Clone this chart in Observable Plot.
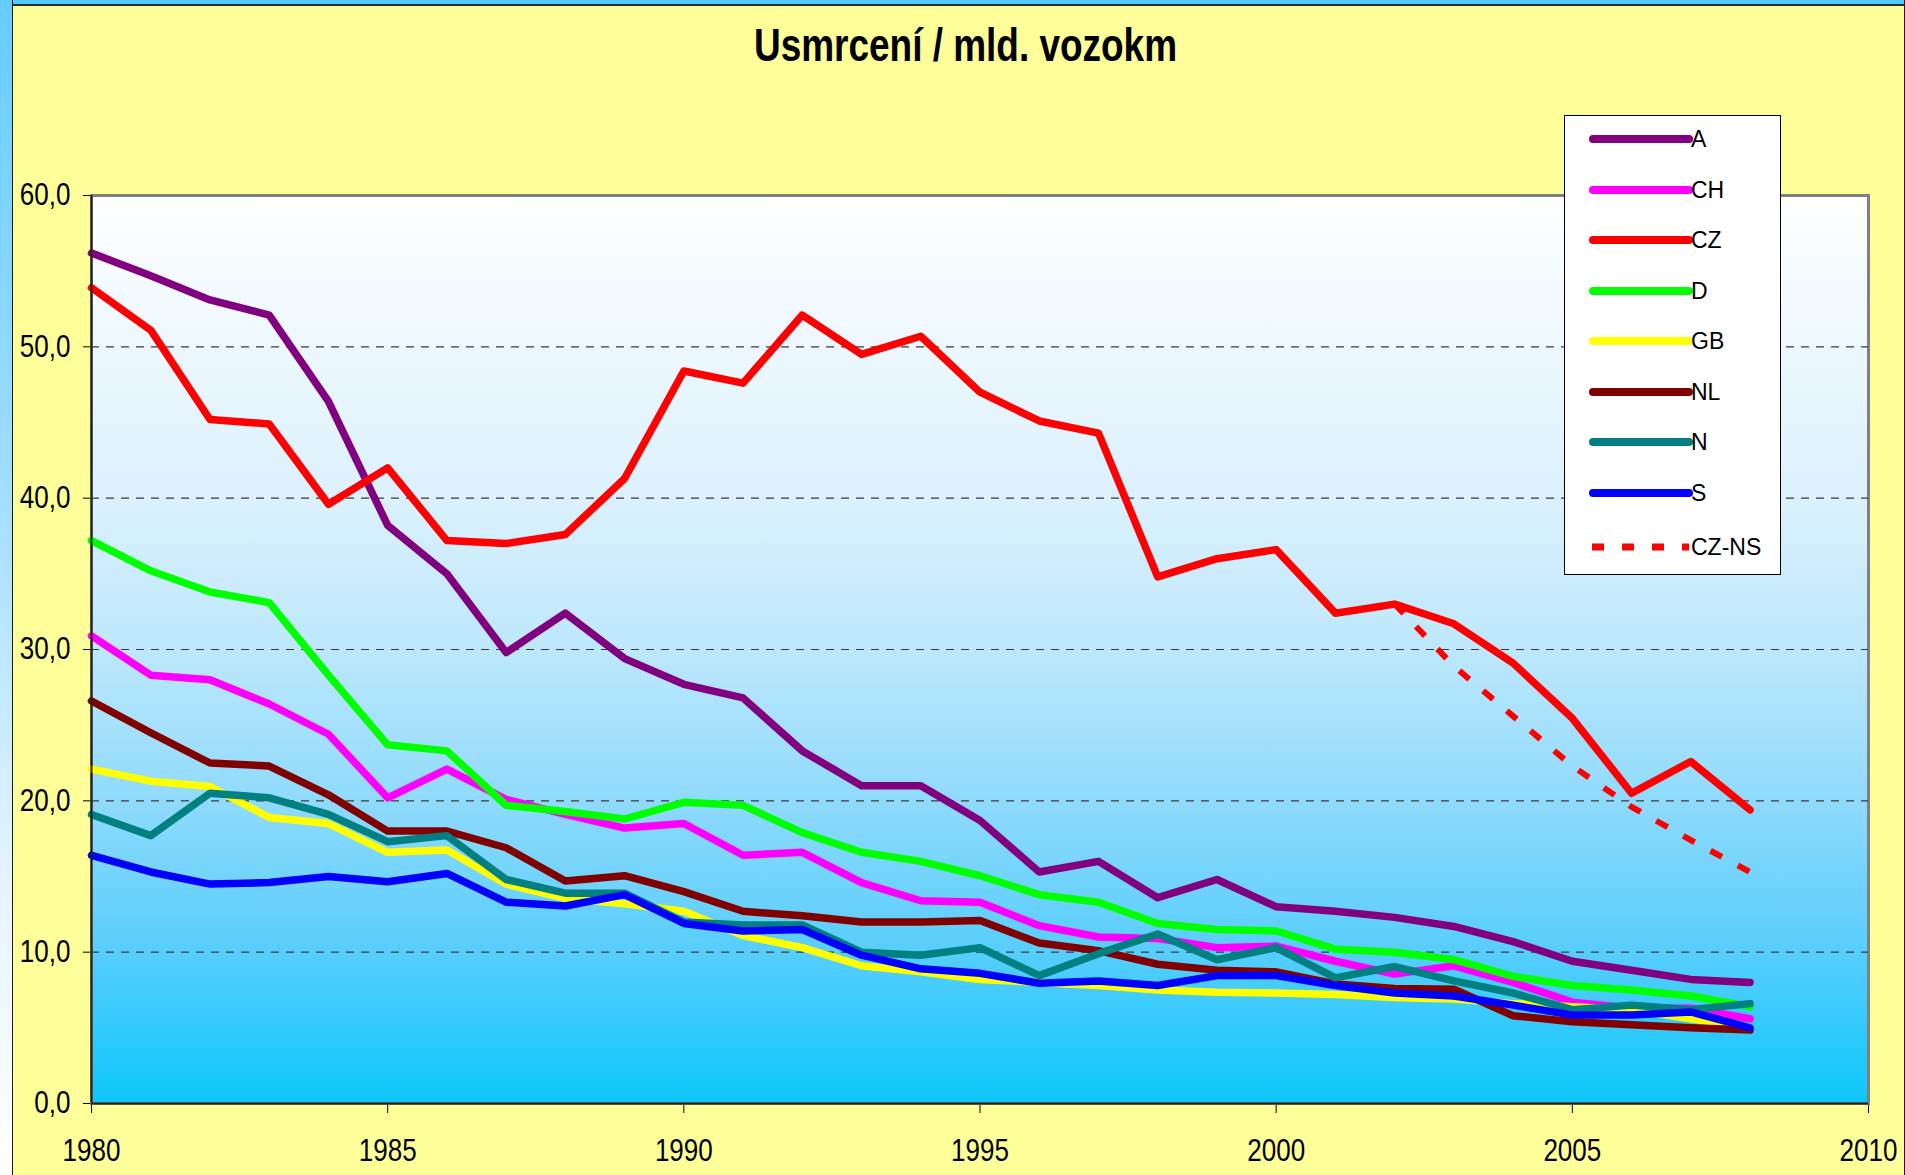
<!DOCTYPE html>
<html>
<head>
<meta charset="utf-8">
<script src="https://cdn.jsdelivr.net/npm/d3@7"></script>
<script src="https://cdn.jsdelivr.net/npm/@observablehq/plot@0.6"></script>
<style>
  html, body { margin: 0; padding: 0; background: #FFFF99; }
  #page { position: relative; width: 1905px; height: 1175px; background: #FFFF99; overflow: hidden; }
  #leftstrip { position: absolute; left: 0; top: 0; width: 12px; height: 1175px;
    background: linear-gradient(to bottom, #66CCFF 0%, #9FDDFF 40%, #E6F4FF 75%, #FFFFFF 100%); border-right: 1px solid #1a1a1a; z-index: 3; }
  #topstrip { position: absolute; left: 0; top: 0; width: 1905px; height: 4px; background: #4FCBFB; border-bottom: 2px solid #2b2b2b; z-index: 3; }
  #rightline { position: absolute; right: 0; top: 0; width: 1px; height: 1175px; background: #1a1a1a; z-index: 3; }
  #titlebox { position: relative; height: 100px; }
  #title { position: absolute; left: 965px; top: 22px; line-height: 46px;
    font-family: "Liberation Sans", Arial, sans-serif;
    font-weight: bold; font-size: 46px; white-space: nowrap; color: #000; transform-origin: 0 0; }
  #legend { position: absolute; left: 1564px; top: 115px; width: 215px; height: 458px; background: #fff;
    border: 1px solid #000; z-index: 2; font-family: "Liberation Sans", Arial, sans-serif; font-size: 23px; }
  .entry { position: absolute; left: 0; height: 30px; width: 215px; }
  .entry svg { position: absolute; left: 24px; top: 0; }
  .entry span { position: absolute; left: 126px; top: 2px; line-height: 26px; color: #000; white-space: nowrap; }
  svg.plotsvg text { font-family: "Liberation Sans", Arial, sans-serif; }
</style>
</head>
<body>
<div id="page">
  <div id="topstrip"></div>
  <div id="leftstrip"></div>
  <div id="rightline"></div>
  <div id="titlebox"><div id="title">Usmrcení / mld. vozokm</div></div>
  <div id="chart"></div>
  <div id="legend"></div>
</div>
<script>
// ---- data ----
const years = [1980,1981,1982,1983,1984,1985,1986,1987,1988,1989,1990,1991,1992,1993,1994,1995,1996,1997,1998,1999,2000,2001,2002,2003,2004,2005,2006,2007,2008];
const seriesNames = ["A","CH","CZ","D","GB","NL","N","S"];
const seriesColors = ["#800080","#FF00FF","#FF0000","#00FF00","#FFFF00","#800000","#008080","#0000FF"];
const A  = [56.2,54.7,53.1,52.1,46.4,38.2,35.0,29.8,32.4,29.4,27.7,26.8,23.3,21.0,21.0,18.7,15.3,16.0,13.6,14.8,13.0,12.7,12.3,11.7,10.7,9.4,8.8,8.2,8.0];
const CH = [30.9,28.3,28.0,26.4,24.4,20.2,22.1,20.1,19.1,18.2,18.5,16.4,16.6,14.6,13.4,13.3,11.75,11.0,10.9,10.3,10.4,9.4,8.55,9.1,8.0,6.7,6.3,6.3,5.6];
const CZ = [53.9,51.1,45.2,44.9,39.6,42.0,37.2,37.0,37.6,41.3,48.4,47.6,52.1,49.5,50.7,47.0,45.1,44.3,34.8,36.0,36.6,32.4,33.0,31.7,29.1,25.45,20.5,22.6,19.4];
const D  = [37.2,35.2,33.8,33.1,28.3,23.7,23.3,19.7,19.3,18.8,19.9,19.7,17.9,16.6,16.0,15.05,13.8,13.3,11.9,11.5,11.4,10.2,10.0,9.5,8.4,7.8,7.5,7.1,6.4];
const GB = [22.1,21.3,20.95,18.9,18.5,16.6,16.75,14.5,13.55,13.2,12.7,11.1,10.3,9.1,8.7,8.2,8.0,7.8,7.5,7.35,7.3,7.2,7.0,6.9,6.6,6.4,6.2,5.6,5.0];
const NL = [26.6,24.5,22.5,22.3,20.4,18.0,18.0,16.9,14.7,15.05,14.0,12.7,12.4,12.0,12.0,12.1,10.6,10.1,9.2,8.8,8.7,7.9,7.6,7.55,5.8,5.4,5.2,5.0,4.85];
const N  = [19.1,17.7,20.5,20.2,19.1,17.3,17.7,14.8,13.9,13.9,12.0,11.8,11.8,10.0,9.8,10.3,8.45,9.9,11.2,9.5,10.3,8.3,9.05,8.1,7.3,6.2,6.5,6.2,6.6];
const S  = [16.4,15.3,14.5,14.6,15.0,14.65,15.2,13.3,13.05,13.8,11.9,11.4,11.5,9.8,8.9,8.6,7.95,8.1,7.8,8.45,8.45,7.8,7.3,7.1,6.5,5.85,5.85,6.05,5.0];
const nsYears  = [2002,2003,2004,2005,2006,2007,2008];
const nsValues = [33.0,28.9,25.6,22.3,19.6,17.4,15.3];
const nsName = "CZ-NS";
const xTicks = [1980,1985,1990,1995,2000,2005,2010];
const yTicks = [0,10,20,30,40,50,60];
const gridValues = [10,20,30,40,50];

// ---- build table ----
const seriesValues = [A, CH, CZ, D, GB, NL, N, S];
const rows = seriesNames.flatMap((name, i) => years.map((year, j) => ({name, year, value: seriesValues[i][j]})));
const nsRows = nsYears.map((year, j) => ({name: nsName, year, value: nsValues[j]}));

const chart = Plot.plot({
  width: 1905,
  height: 1075,
  marginLeft: 91,
  marginRight: 37,
  marginTop: 95,
  marginBottom: 72,
  style: {background: "transparent", fontSize: "31px", color: "#000", overflow: "visible"},
  x: {domain: [1980, 2010], ticks: xTicks, tickFormat: d => String(d), label: null, tickSize: 10, tickPadding: 25},
  y: {domain: [0, 60], ticks: yTicks, tickFormat: d => d.toFixed(1).replace(".", ","), label: null, tickSize: 8, tickPadding: 13},
  color: {domain: seriesNames, range: seriesColors},
  marks: [
    Plot.frame({fill: "url(#plotbg)", stroke: "#808080", strokeWidth: 3}),
    Plot.ruleY(gridValues, {stroke: "#3a3a3a", strokeWidth: 1.2, strokeDasharray: "8,7"}),
    Plot.line(rows, {x: "year", y: "value", z: "name", stroke: "name", strokeWidth: 7.5, strokeLinejoin: "round", strokeLinecap: "round"}),
    Plot.line(nsRows, {x: "year", y: "value", stroke: "#FF0000", strokeWidth: 6, strokeDasharray: "13,18", strokeLinecap: "butt"}),
    Plot.ruleX([1980], {stroke: "#222", strokeWidth: 2}),
    Plot.ruleY([0], {stroke: "#222", strokeWidth: 2})
  ]
});
chart.classList.add("plotsvg");
chart.insertAdjacentHTML("afterbegin",
  '<defs><linearGradient id="plotbg" x1="0" y1="0" x2="0" y2="1">' +
  '<stop offset="0" stop-color="#FFFFFF"/>' +
  '<stop offset="0.33" stop-color="#DCF1FD"/>' +
  '<stop offset="0.5" stop-color="#BDE8FC"/>' +
  '<stop offset="0.67" stop-color="#8EDAFC"/>' +
  '<stop offset="0.83" stop-color="#58CEFC"/>' +
  '<stop offset="1" stop-color="#0DC6FB"/>' +
  '</linearGradient></defs>');
chart.style.display = "block";
document.getElementById("chart").appendChild(chart);

// condensed look for tick labels (like Arial Narrow-ish)
chart.querySelectorAll("text").forEach(t => {
  const len = t.getComputedTextLength();
  if (len > 0) {
    t.setAttribute("textLength", (len * 0.84).toFixed(2));
    t.setAttribute("lengthAdjust", "spacingAndGlyphs");
  }
});

// condensed bold title, centred at x=965, width ~423
const title = document.getElementById("title");
const tw = title.getBoundingClientRect().width;
const sx = 423 / tw;
title.style.left = (965 - 423 / 2) + "px";
title.style.transform = `scaleX(${sx})`;

// ---- legend ----
const legend = document.getElementById("legend");
const legendItems = seriesNames.map((n, i) => ({name: n, color: seriesColors[i], dash: null}))
  .concat([{name: nsName, color: "#FF0000", dash: "12,18"}]);
legendItems.forEach((item, i) => {
  const cy = 23 + i * 50.5 + (i === 8 ? 4 : 0);
  const div = document.createElement("div");
  div.className = "entry";
  div.style.top = (cy - 15) + "px";
  const sw = item.dash
    ? `<svg width="104" height="30"><line x1="3" y1="15" x2="100" y2="15" stroke="${item.color}" stroke-width="7" stroke-dasharray="${item.dash}" stroke-linecap="butt"/></svg>`
    : `<svg width="104" height="30"><line x1="4" y1="15" x2="100" y2="15" stroke="${item.color}" stroke-width="8" stroke-linecap="round"/></svg>`;
  div.innerHTML = sw + `<span>${item.name}</span>`;
  legend.appendChild(div);
});
</script>
</body>
</html>
